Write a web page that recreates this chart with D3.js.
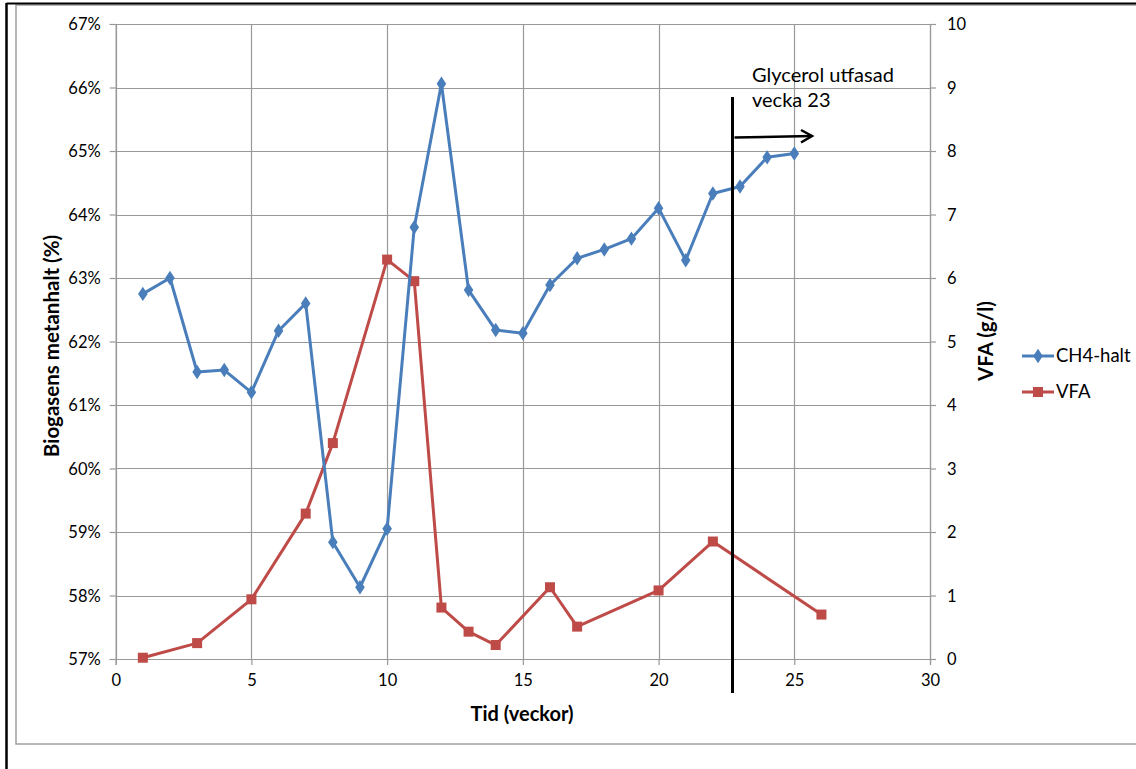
<!DOCTYPE html>
<html>
<head>
<meta charset="utf-8">
<script src="https://cdn.jsdelivr.net/npm/d3@7"></script>
<style>
  html, body { margin: 0; padding: 0; background: #fff; }
  svg { display: block; font-family: Lato, "Open Sans", sans-serif; }
</style>
</head>
<body>
<svg id="chart" width="1136" height="769"></svg>
<script>
// Weeks and measured values
const ch4Weeks = [1, 2, 3, 4, 5, 6, 7, 8, 9, 10, 11, 12, 13, 14, 15, 16, 17, 18, 19, 20, 21, 22, 23, 24, 25];
const ch4Values = [62.75, 63.0, 61.52, 61.55, 61.2, 62.17, 62.6, 58.84, 58.13, 59.05, 63.8, 66.06, 62.81, 62.18, 62.13, 62.89, 63.31, 63.45, 63.62, 64.1, 63.28, 64.33, 64.44, 64.9, 64.96];
const vfaWeeks = [1, 3, 5, 7, 8, 10, 11, 12, 13, 14, 16, 17, 20, 22, 26];
const vfaValues = [0.02, 0.25, 0.94, 2.29, 3.4, 6.29, 5.95, 0.81, 0.43, 0.22, 1.13, 0.51, 1.08, 1.85, 0.7];

const xTicks = [0, 5, 10, 15, 20, 25, 30];
const leftTicks = [57, 58, 59, 60, 61, 62, 63, 64, 65, 66, 67];
const rightTicks = [0, 1, 2, 3, 4, 5, 6, 7, 8, 9, 10];
const markerWeek = 23;
const seriesNames = ["CH4-halt", "VFA"];
const noteLines = ["Glycerol utfasad", "vecka 23"];

const blue = "#4A7EBB";
const red = "#BE4B48";
const grid = "#989898";

const svg = d3.select("#chart");

// Frame
svg.append("rect").attr("x", 16).attr("y", 5).attr("width", 1130).attr("height", 739)
  .attr("fill", "none").attr("stroke", "#a0a0a0").attr("stroke-width", 1.5);
svg.append("line").attr("x1", 6.5).attr("x2", 1136).attr("y1", 3.5).attr("y2", 3.5)
  .attr("stroke", "#000").attr("stroke-width", 2);
svg.append("line").attr("x1", 6.5).attr("x2", 6.5).attr("y1", 3).attr("y2", 769)
  .attr("stroke", "#000").attr("stroke-width", 2.5);

const plotLeft = 115.7, plotRight = 930, plotTop = 24, plotBottom = 659;
const x = d3.scaleLinear().domain([0, 30]).range([plotLeft, plotRight]);
const yL = d3.scaleLinear().domain([57, 67]).range([plotBottom, plotTop]);
const yR = d3.scaleLinear().domain([0, 10]).range([plotBottom, plotTop]);

// Gridlines
const g = svg.append("g");
g.selectAll(".hg").data(leftTicks).join("line")
  .attr("x1", plotLeft).attr("x2", plotRight)
  .attr("y1", d => Math.round(yL(d)) + 0.5).attr("y2", d => Math.round(yL(d)) + 0.5)
  .attr("stroke", grid).attr("stroke-width", 1.2);
g.selectAll(".vg").data(xTicks).join("line")
  .attr("y1", plotTop).attr("y2", plotBottom)
  .attr("x1", d => Math.round(x(d)) + 0.5).attr("x2", d => Math.round(x(d)) + 0.5)
  .attr("stroke", grid).attr("stroke-width", 1.2);

// Axes
const fmtPct = d => d + "%";
const axL = svg.append("g").attr("transform", `translate(${plotLeft},0)`)
  .call(d3.axisLeft(yL).tickValues(leftTicks).tickFormat(fmtPct).tickSize(6).tickPadding(9));
const axR = svg.append("g").attr("transform", `translate(${plotRight},0)`)
  .call(d3.axisRight(yR).tickValues(rightTicks).tickFormat(d3.format("d")).tickSize(6).tickPadding(11));
const axB = svg.append("g").attr("transform", `translate(0,${plotBottom})`)
  .call(d3.axisBottom(x).tickValues(xTicks).tickFormat(d3.format("d")).tickSize(6).tickPadding(9));
[axL, axR, axB].forEach(a => {
  a.select(".domain").attr("stroke", grid).attr("stroke-width", 1.2);
  a.selectAll(".tick line").attr("stroke", grid).attr("stroke-width", 1.2);
  a.selectAll(".tick text").attr("fill", "#000").style("font-size", "16.5px")
    .style("font-family", "Lato, 'Open Sans', sans-serif");
});
axL.selectAll(".tick text").attr("dy", "0.35em");
axR.selectAll(".tick text").attr("dy", "0.35em");

// Axis titles
svg.append("text").attr("transform", `translate(52,346) rotate(-90)`)
  .attr("dy", "0.35em")
  .attr("text-anchor", "middle").style("font-size", "20.5px").style("font-weight", "bold")
  .text("Biogasens metanhalt (%)");
svg.append("text").attr("transform", `translate(986,341) rotate(-90)`)
  .attr("dy", "0.35em")
  .attr("text-anchor", "middle").style("font-size", "20.5px").style("font-weight", "bold")
  .text("VFA (g/l)");
svg.append("text").attr("x", 522).attr("y", 714).attr("dy", "0.35em")
  .attr("text-anchor", "middle").style("font-size", "20px").style("font-weight", "bold")
  .text("Tid (veckor)");

// Series lines
const ch4 = ch4Weeks.map((w, i) => [w, ch4Values[i]]);
const vfa = vfaWeeks.map((w, i) => [w, vfaValues[i]]);

svg.append("path").datum(vfa)
  .attr("d", d3.line().x(d => x(d[0])).y(d => yR(d[1])))
  .attr("fill", "none").attr("stroke", red).attr("stroke-width", 3).attr("stroke-linejoin", "round");
svg.selectAll(".vfa-pt").data(vfa).join("rect")
  .attr("x", d => x(d[0]) - 5).attr("y", d => yR(d[1]) - 5)
  .attr("width", 10).attr("height", 10).attr("fill", red);

svg.append("path").datum(ch4)
  .attr("d", d3.line().x(d => x(d[0])).y(d => yL(d[1])))
  .attr("fill", "none").attr("stroke", blue).attr("stroke-width", 3).attr("stroke-linejoin", "round");
const diamond = d3.symbol().type(d3.symbolDiamond).size(60);
svg.selectAll(".ch4-pt").data(ch4).join("path")
  .attr("transform", d => `translate(${x(d[0])},${yL(d[1])}) scale(1.15,1)`)
  .attr("d", diamond).attr("fill", blue);

// Phase-out marker with arrow and note (line sits just before the week-23 sample)
const mx = x(markerWeek) - 7.5;
svg.append("line").attr("x1", mx).attr("x2", mx).attr("y1", 97).attr("y2", 693)
  .attr("stroke", "#000").attr("stroke-width", 3);
svg.append("line").attr("x1", mx + 2).attr("y1", 137.5).attr("x2", 812).attr("y2", 136)
  .attr("stroke", "#000").attr("stroke-width", 2.5);
svg.append("path").attr("d", "M801,130 L812,136 L801,142.5")
  .attr("fill", "none").attr("stroke", "#000").attr("stroke-width", 2.5);
svg.append("text").attr("x", 752).attr("y", 82).style("font-size", "20px")
  .selectAll("tspan").data(noteLines).join("tspan")
  .attr("x", 752).attr("dy", (d, i) => i ? 25 : 0).text(d => d);

// Legend
const legend = svg.append("g");
const legY = [356, 392];
legend.selectAll(".ll").data(seriesNames).join("line")
  .attr("x1", 1022).attr("x2", 1054).attr("y1", (d, i) => legY[i]).attr("y2", (d, i) => legY[i])
  .attr("stroke", (d, i) => i ? red : blue).attr("stroke-width", 3);
legend.append("path").attr("d", diamond)
  .attr("transform", `translate(1038,${legY[0]}) scale(1.15,1)`).attr("fill", blue);
legend.append("rect").attr("x", 1033).attr("y", legY[1] - 5).attr("width", 10).attr("height", 10).attr("fill", red);
legend.selectAll(".lt").data(seriesNames).join("text")
  .attr("x", 1056).attr("y", (d, i) => legY[i]).attr("dy", "0.35em")
  .style("font-size", "18.5px").text(d => d);
</script>
</body>
</html>
